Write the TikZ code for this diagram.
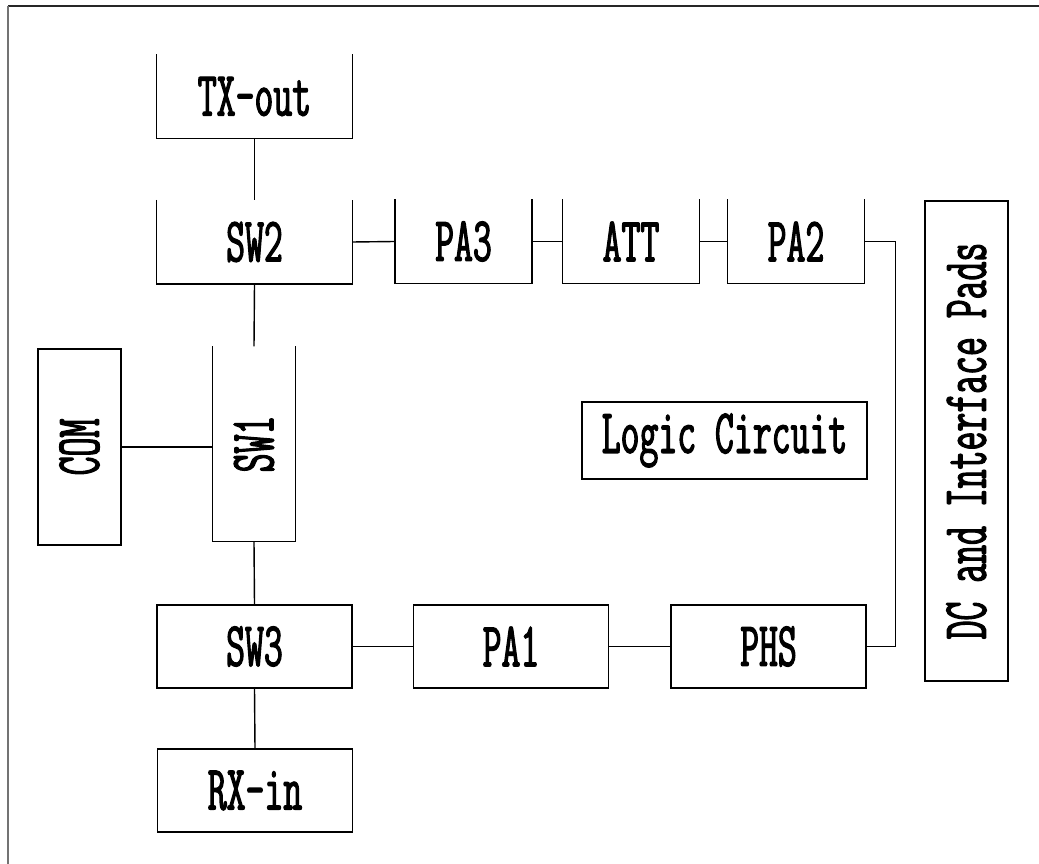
\documentclass[tikz,border=0pt]{standalone}
\usepackage{fontspec}
\usepackage{graphicx}
\newfontfamily\blockfont[FakeStretch=0.58,FakeBold=1.8]{Latin Modern Mono}
\usetikzlibrary{positioning,calc}
\tikzset{
  blk/.style={draw,line width=0.8pt,inner sep=0pt,
    font=\blockfont\fontsize{36}{36}\selectfont},
  openblk/.style={blk,draw=none},
  wide/.style={minimum width=3.9cm,minimum height=1.66cm},
  narrow/.style={minimum width=2.72cm,minimum height=1.66cm},
  wire/.style={line width=0.8pt},
}
\newcommand{\openside}[1]{\draw[wire] (#1.north west) |- (#1.south east) -- (#1.north east);}

\begin{document}
\begin{tikzpicture}[x=0.02cm,y=-0.02cm]
  \useasboundingbox (0,0) rectangle (1039,864);
  \draw[line width=1.6pt,black!85] (8,6)--(1039,6);
  \draw[line width=1pt,black!55] (8,6)--(8,864);

  \node[openblk,wide] (txout) at (254.5,96.5) {TX-out};
  \node[openblk,wide] (sw2) at (254.5,242) {SW2};
  \node[openblk,narrow] (pa3) at (463.5,241.5) {PA3};
  \node[openblk,narrow] (att) at (631,241.5) {ATT};
  \node[openblk,narrow] (pa2) at (796,241.5) {PA2};
  \node[openblk,minimum width=1.64cm,minimum height=3.88cm] (sw1) at (254,444) {\rotatebox{90}{SW1}};
  \node[blk,minimum width=1.66cm,minimum height=3.92cm] (com) at (79.5,447) {\rotatebox{90}{COM}};
  \node[blk,minimum width=5.7cm,minimum height=1.54cm] (logic) at (724.5,440.5) {Logic Circuit};
  \node[blk,minimum width=1.66cm,minimum height=9.6cm] (pads) at (966.5,441) {\rotatebox{90}{DC and Interface Pads}};
  \node[blk,wide] (sw3) at (254.5,646.5) {SW3};
  \node[blk,wide] (pa1) at (511,646.5) {PA1};
  \node[blk,wide] (phs) at (768.5,646.5) {PHS};
  \node[blk,wide] (rxin) at (255,790.5) {RX-in};

  \openside{txout}
  \openside{sw2}
  \openside{pa3}
  \openside{att}
  \openside{pa2}
  \openside{sw1}

  \draw[wire] (txout.south)--(sw2.north);
  \draw[wire] (sw2.east)--(pa3.west);
  \draw[wire] (pa3.east)--(att.west);
  \draw[wire] (att.east)--(pa2.west);
  \draw[wire] (pa2.east)--++(31,0)|-(phs.east);
  \draw[wire] (sw2.south)--(sw1.north);
  \draw[wire] (com.east)--(com.east-|sw1.west);
  \draw[wire] (sw1.south)--(sw3.north);
  \draw[wire] (sw3.east)--(pa1.west);
  \draw[wire] (pa1.east)--(phs.west);
  \draw[wire] (sw3.south)--(rxin.north);
\end{tikzpicture}
\end{document}
